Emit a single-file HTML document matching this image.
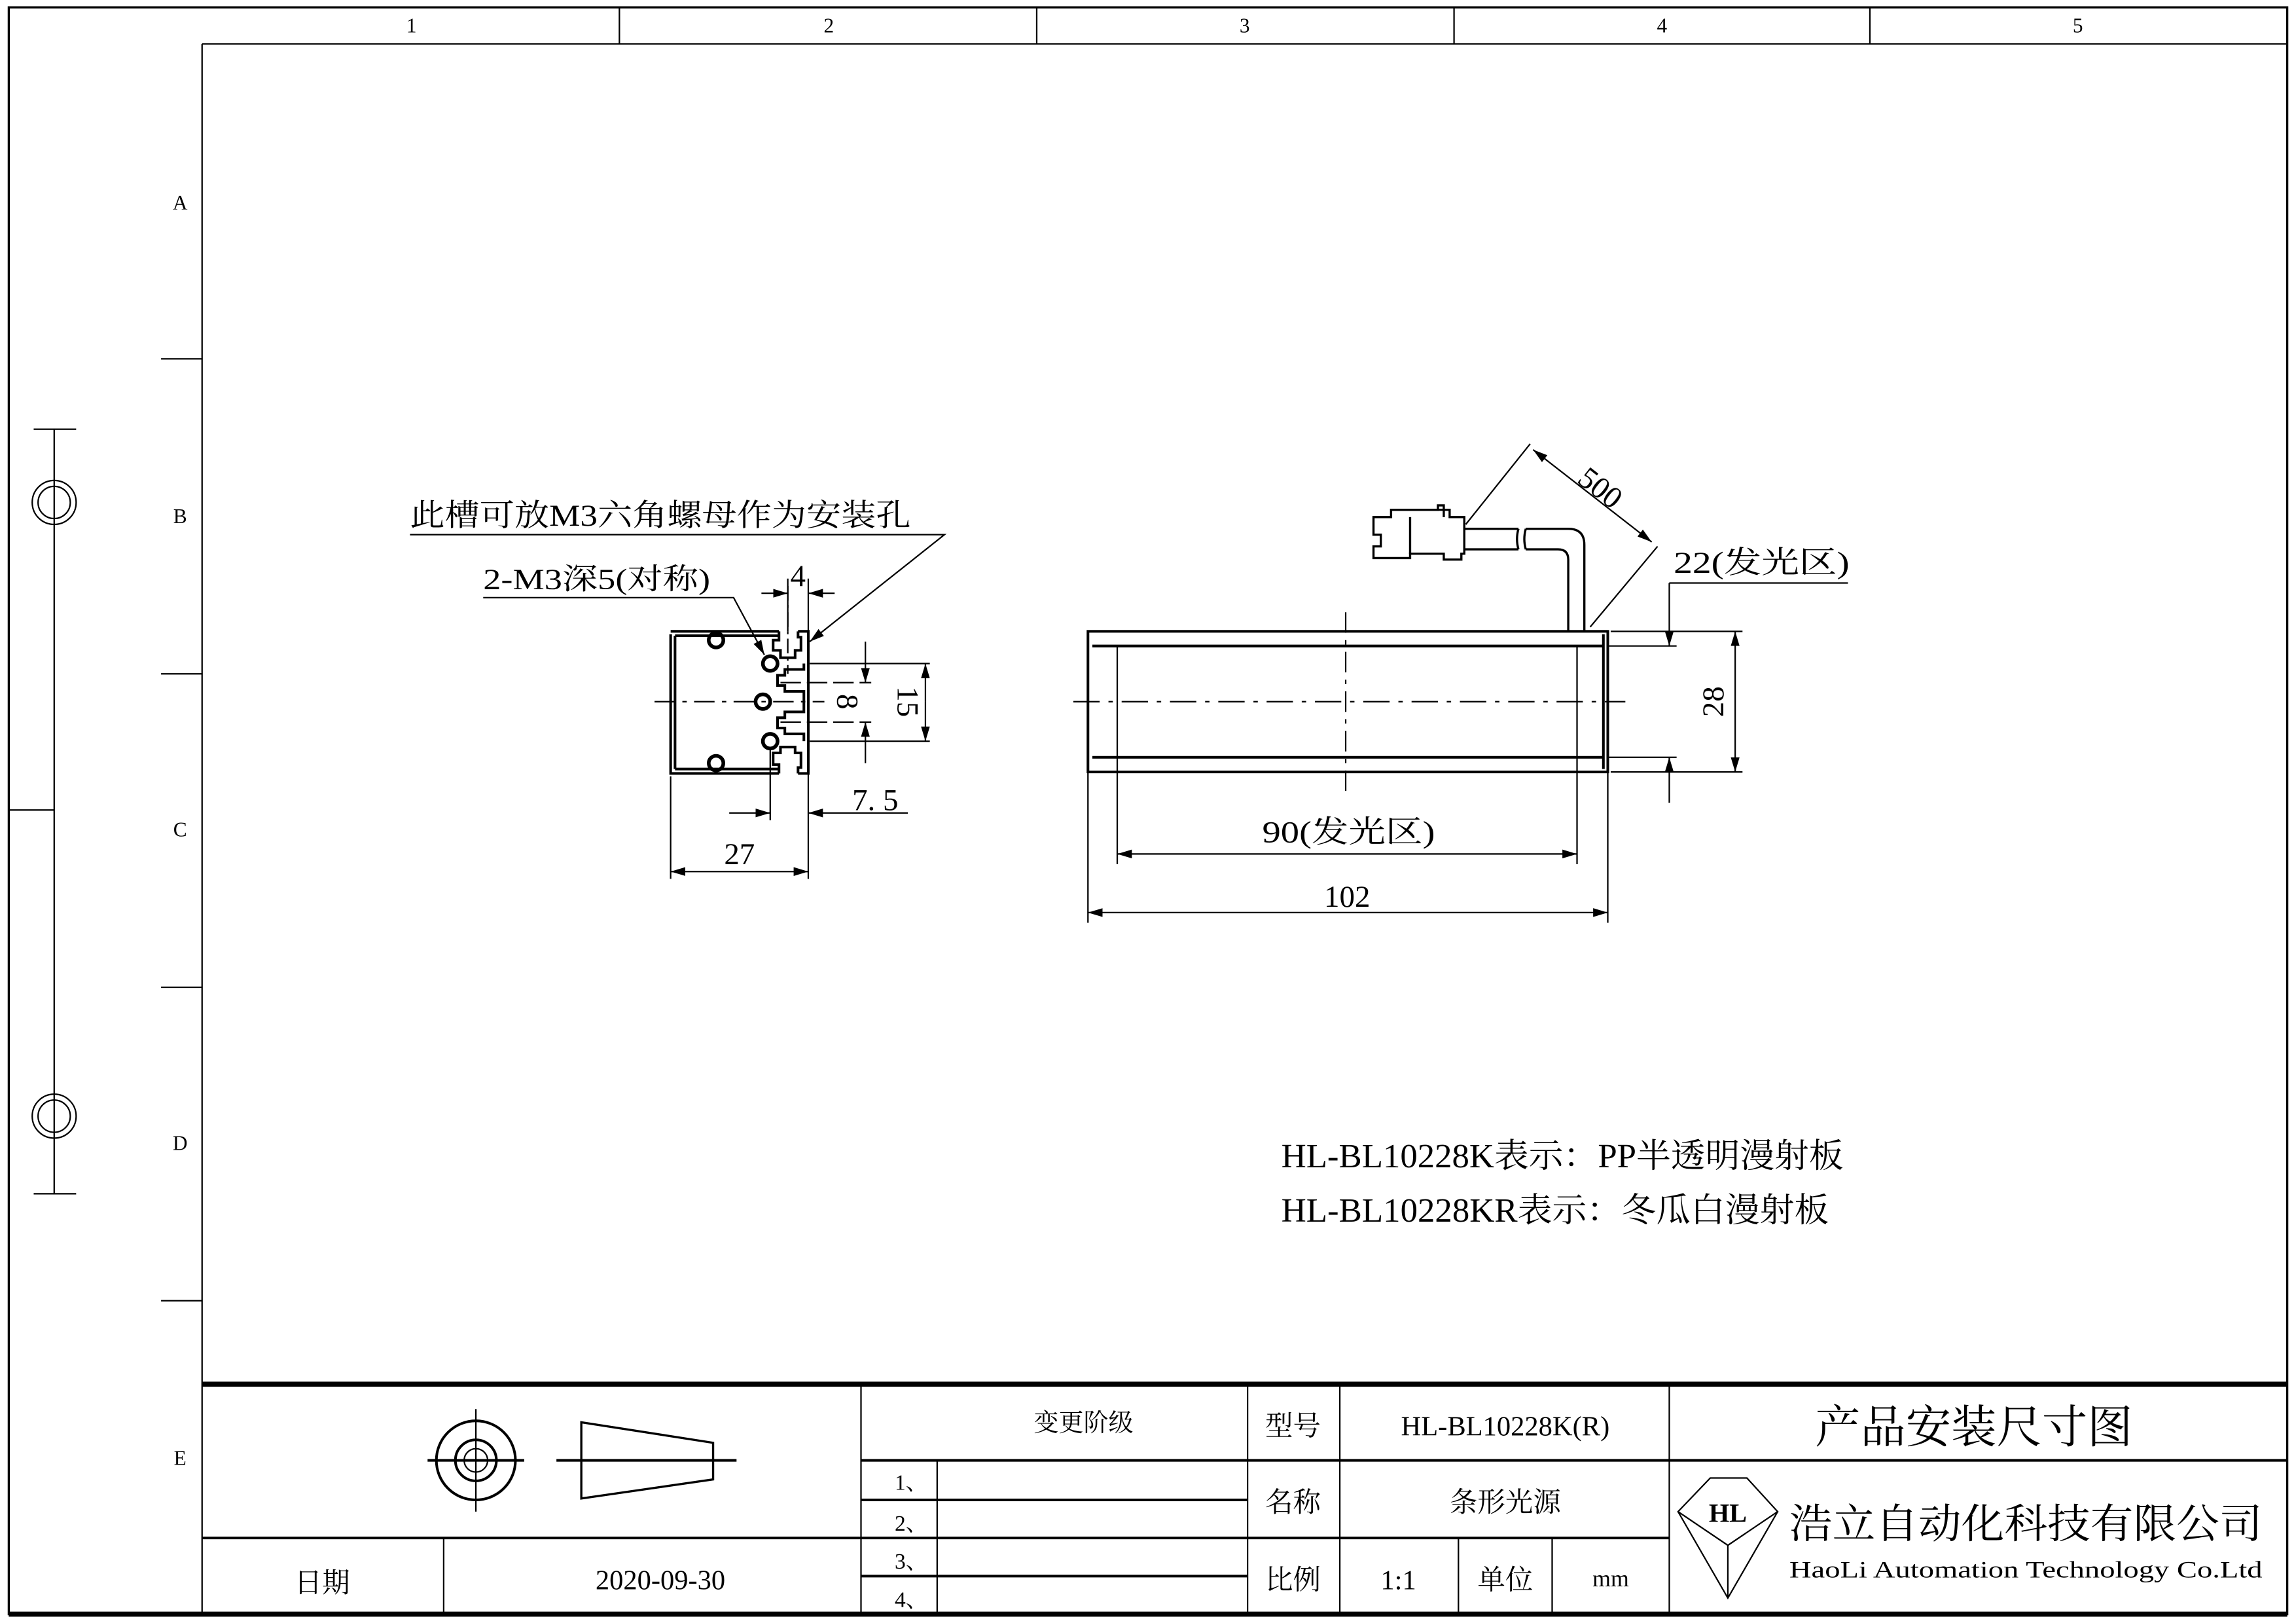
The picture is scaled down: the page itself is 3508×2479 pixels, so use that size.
<!DOCTYPE html>
<html><head><meta charset="utf-8"><style>
html,body{margin:0;padding:0;background:#fff;}
svg{display:block;}
text{font-family:"Liberation Serif","Noto Serif CJK SC","Noto Sans CJK SC",serif;fill:#000;}
</style></head><body>
<svg width="3508" height="2479" viewBox="0 0 1568 1108" xmlns="http://www.w3.org/2000/svg">
<defs>
<marker id="a" viewBox="0 0 10 6" refX="10" refY="3" markerWidth="10" markerHeight="6" markerUnits="userSpaceOnUse" orient="auto-start-reverse"><path d="M0,0 L10,3 L0,6 z" fill="#000"/></marker>
</defs>
<g fill="none" stroke="#000" stroke-width="1">
<rect x="6" y="5" width="1556" height="1097" stroke-width="1.5"/>
<line x1="138" y1="30" x2="1562" y2="30"/>
<line x1="138" y1="30" x2="138" y2="1102"/>
<line x1="423" y1="5" x2="423" y2="30"/><line x1="708" y1="5" x2="708" y2="30"/>
<line x1="993" y1="5" x2="993" y2="30"/><line x1="1277" y1="5" x2="1277" y2="30"/>
<line x1="110" y1="245" x2="138" y2="245"/><line x1="110" y1="460" x2="138" y2="460"/>
<line x1="110" y1="674" x2="138" y2="674"/><line x1="110" y1="888" x2="138" y2="888"/>
<line x1="6" y1="553" x2="37" y2="553"/>
<line x1="37" y1="293" x2="37" y2="815"/>
<line x1="23" y1="293" x2="52" y2="293"/><line x1="23" y1="815" x2="52" y2="815"/>
<circle cx="37" cy="343" r="15"/><circle cx="37" cy="343" r="11"/>
<circle cx="37" cy="762" r="15"/><circle cx="37" cy="762" r="11"/>
<line x1="138" y1="945" x2="1562" y2="945" stroke-width="3.5"/>
<line x1="6" y1="1102" x2="1562" y2="1102" stroke-width="3.5"/>
<line x1="138" y1="1050" x2="588" y2="1050" stroke-width="1.8"/>
<line x1="303" y1="1050" x2="303" y2="1102"/>
<line x1="588" y1="945" x2="588" y2="1102"/>
<line x1="588" y1="997" x2="852" y2="997" stroke-width="1.8"/>
<line x1="588" y1="1050" x2="852" y2="1050" stroke-width="1.8"/>
<line x1="588" y1="1024" x2="852" y2="1024" stroke-width="1.8"/>
<line x1="588" y1="1076" x2="852" y2="1076" stroke-width="1.8"/>
<line x1="640" y1="997" x2="640" y2="1102"/>
<line x1="852" y1="945" x2="852" y2="1102"/>
<line x1="915" y1="945" x2="915" y2="1102"/>
<line x1="852" y1="997" x2="1140" y2="997" stroke-width="1.8"/>
<line x1="852" y1="1050" x2="1140" y2="1050" stroke-width="1.8"/>
<line x1="996" y1="1050" x2="996" y2="1102"/>
<line x1="1060" y1="1050" x2="1060" y2="1102"/>
<line x1="1140" y1="945" x2="1140" y2="1102"/>
<line x1="1140" y1="997" x2="1562" y2="997" stroke-width="1.8"/>
<circle cx="325" cy="997" r="27" stroke-width="1.8"/>
<circle cx="325" cy="997" r="14" stroke-width="1.8"/>
<circle cx="325" cy="997" r="8"/>
<line x1="325" y1="962" x2="325" y2="1032"/>
<line x1="292" y1="997" x2="358" y2="997" stroke-width="1.8"/>
<path d="M397,971 L487,985 L487,1010 L397,1023 Z" stroke-width="1.5"/>
<line x1="380" y1="997" x2="503" y2="997" stroke-width="1.8"/>
<path d="M1146,1032 L1168,1009 L1193,1009 L1214,1032 L1180,1055 Z"/>
<path d="M1146,1032 L1180,1091 L1214,1032 M1180,1055 L1180,1091"/>

<g stroke-width="1.8">
<path d="M458,433 L458,528 L532,528 M458,431 L532,431 M545,431 L552,431 L552,528 L545,528"/>
<path d="M461,434 L461,525 M461,434 L532,434 M461,525 L532,525"/>
<path d="M532,431 L532,437 L528,437 L528,444 L533,444 L533,449 L543,449 L543,444 L547,444 L547,435 L545,435 L545,431"/>
<path d="M532,528 L532,522 L528,522 L528,514 L533,514 L533,510 L543,510 L543,514 L547,514 L547,524 L545,524 L545,528"/>
<path d="M549,453 L549,457 L536,457 L536,461 L531,461 L531,468 L536,468 L536,472 L549,472 L549,486 L536,486 L536,490 L531,490 L531,497 L536,497 L536,501 L549,501 L549,506"/>
</g>
<g stroke-width="2.5">
<circle cx="526" cy="453" r="5"/><circle cx="526" cy="506" r="5"/>
<circle cx="521" cy="479" r="5"/>
<circle cx="489" cy="437" r="5"/><circle cx="489" cy="521" r="5"/>
</g>
<line x1="447" y1="479" x2="563" y2="479" stroke-dasharray="14,5,3,5"/>
<line x1="538" y1="400" x2="538" y2="460" stroke-dasharray="10,3,2,3"/>
<line x1="533" y1="466" x2="595" y2="466" stroke-dasharray="14,4"/>
<line x1="533" y1="493" x2="595" y2="493" stroke-dasharray="14,4"/>
<line x1="553" y1="453" x2="635" y2="453"/>
<line x1="553" y1="506" x2="635" y2="506"/>
<line x1="538" y1="395" x2="538" y2="431"/><line x1="552" y1="395" x2="552" y2="431"/>
<line x1="520" y1="405" x2="538" y2="405" marker-end="url(#a)"/>
<line x1="570" y1="405" x2="552" y2="405" marker-end="url(#a)"/>
<line x1="591" y1="438" x2="591" y2="466" marker-end="url(#a)"/>
<line x1="591" y1="521" x2="591" y2="493" marker-end="url(#a)"/>
<line x1="632" y1="479" x2="632" y2="453" marker-end="url(#a)"/>
<line x1="632" y1="479" x2="632" y2="506" marker-end="url(#a)"/>
<line x1="526" y1="510" x2="526" y2="560"/>
<line x1="552" y1="528" x2="552" y2="600"/>
<line x1="498" y1="555" x2="526" y2="555" marker-end="url(#a)"/>
<line x1="620" y1="555" x2="552" y2="555" marker-end="url(#a)"/>
<line x1="458" y1="530" x2="458" y2="600"/>
<line x1="458" y1="595" x2="552" y2="595" marker-start="url(#a)" marker-end="url(#a)"/>
<path d="M330,408 L501,408 L522,447" marker-end="url(#a)"/>
<path d="M280,365 L645,365 L553,438" marker-end="url(#a)"/>

<g stroke-width="1.8">
<rect x="743" y="431" width="355" height="96"/>
<path d="M746,441 L1095,441 M746,517 L1095,517"/>
<path d="M1095,433 L1095,525"/>
</g>
<line x1="763" y1="441" x2="763" y2="517"/>
<line x1="1077" y1="441" x2="1077" y2="517"/>
<line x1="733" y1="479" x2="1110" y2="479" stroke-dasharray="18,6,3,6"/>
<line x1="919" y1="418" x2="919" y2="540" stroke-dasharray="14,5,3,5"/>
<g stroke-width="1.5">
<path d="M1071,431 L1071,382 Q1071,375 1064,375 L1042,375"/>
<path d="M1082,431 L1082,372 Q1082,361 1071,361 L1042,361"/>
<path d="M1000,361 L1037,361 M1000,375 L1037,375"/>
<path d="M1037,361 Q1035,368 1037,375 M1042,361 Q1040,368 1042,375"/>
<path d="M1000,357 L1000,378 L998,378 L998,382 L986,382 L986,378 L963,378 L963,381 L938,381 L938,373 L943,373 L943,365 L938,365 L938,353 L950,353 L950,348 L990,348 L990,353 L1000,353 L1000,357"/>
<path d="M963,353 L963,378"/>
<path d="M950,348 L982,348 L982,345 L986,345 L986,353"/>
</g>
<line x1="1001" y1="358" x2="1045" y2="303"/>
<line x1="1086" y1="428" x2="1132" y2="373"/>
<line x1="1047" y1="307" x2="1128" y2="370" marker-start="url(#a)" marker-end="url(#a)"/>
<line x1="1140" y1="398" x2="1262" y2="398"/>
<line x1="1140" y1="398" x2="1140" y2="441" marker-end="url(#a)"/>
<line x1="1140" y1="548" x2="1140" y2="517" marker-end="url(#a)"/>
<line x1="1098" y1="441" x2="1145" y2="441"/>
<line x1="1098" y1="517" x2="1145" y2="517"/>
<line x1="1100" y1="431" x2="1190" y2="431"/>
<line x1="1100" y1="527" x2="1190" y2="527"/>
<line x1="1185" y1="431" x2="1185" y2="527" marker-start="url(#a)" marker-end="url(#a)"/>
<line x1="763" y1="517" x2="763" y2="590"/>
<line x1="1077" y1="517" x2="1077" y2="590"/>
<line x1="763" y1="583" x2="1077" y2="583" marker-start="url(#a)" marker-end="url(#a)"/>
<line x1="743" y1="527" x2="743" y2="630"/>
<line x1="1098" y1="527" x2="1098" y2="630"/>
<line x1="743" y1="623" x2="1098" y2="623" marker-start="url(#a)" marker-end="url(#a)"/>
</g>

<g font-size="14" text-anchor="middle">
<text x="281" y="22">1</text><text x="566" y="22">2</text><text x="850" y="22">3</text><text x="1135" y="22">4</text><text x="1419" y="22">5</text>
<text x="123" y="143">A</text><text x="123" y="357">B</text><text x="123" y="571">C</text><text x="123" y="785">D</text><text x="123" y="1000">E</text>
</g>
<g font-size="21">
<text x="280" y="359" textLength="342" lengthAdjust="spacingAndGlyphs">此槽可放M3六角螺母作为安装孔</text>
<text x="330" y="402" font-size="20" textLength="155" lengthAdjust="spacingAndGlyphs">2-M3深5(对称)</text>
<text x="545" y="400" text-anchor="middle">4</text>
<text x="582" y="553">7. 5</text>
<text x="505" y="590" text-anchor="middle">27</text>
<text x="579" y="479" text-anchor="middle" transform="rotate(90 579 479)" dy="7">8</text>
<text x="620" y="479" text-anchor="middle" transform="rotate(90 620 479)" dy="7">15</text>
<text x="1170" y="479" text-anchor="middle" transform="rotate(-90 1170 479)" dy="7">28</text>
<text x="1093" y="333" text-anchor="middle" transform="rotate(38 1093 333)" dy="7">500</text>
<text x="1143" y="391" textLength="120" lengthAdjust="spacingAndGlyphs">22(发光区)</text>
<text x="862" y="575" textLength="118" lengthAdjust="spacingAndGlyphs">90(发光区)</text>
<text x="920" y="619" text-anchor="middle">102</text>
<text x="875" y="797" font-size="23" textLength="384" lengthAdjust="spacingAndGlyphs">HL-BL10228K表示：PP半透明漫射板</text>
<text x="875" y="834" font-size="23" textLength="374" lengthAdjust="spacingAndGlyphs">HL-BL10228KR表示：冬瓜白漫射板</text>
</g>
<g font-size="19" text-anchor="middle">
<text x="740" y="977" font-size="17">变更阶级</text>
<text x="883" y="980">型号</text>
<text x="1028" y="980">HL-BL10228K(R)</text>
<text x="883" y="1032">名称</text>
<text x="1028" y="1032">条形光源</text>
<text x="883" y="1085">比例</text>
<text x="955" y="1085">1:1</text>
<text x="1028" y="1085">单位</text>
<text x="1100" y="1083" font-size="16">mm</text>
<text x="220" y="1087">日期</text>
<text x="451" y="1085">2020-09-30</text>
<text x="1348" y="985" font-size="31">产品安装尺寸图</text>
<text x="1222" y="1050" font-size="28" text-anchor="start" textLength="323" lengthAdjust="spacingAndGlyphs">浩立自动化科技有限公司</text>
<text x="1222" y="1077" font-size="16" text-anchor="start" textLength="323" lengthAdjust="spacingAndGlyphs">HaoLi Automation Technology Co.Ltd</text>
<text x="1180" y="1039" font-size="18" font-weight="bold">HL</text>
</g>
<g font-size="15">
<text x="611" y="1017">1、</text><text x="611" y="1045">2、</text><text x="611" y="1071">3、</text><text x="611" y="1097">4、</text>
</g>
</svg>
</body></html>
